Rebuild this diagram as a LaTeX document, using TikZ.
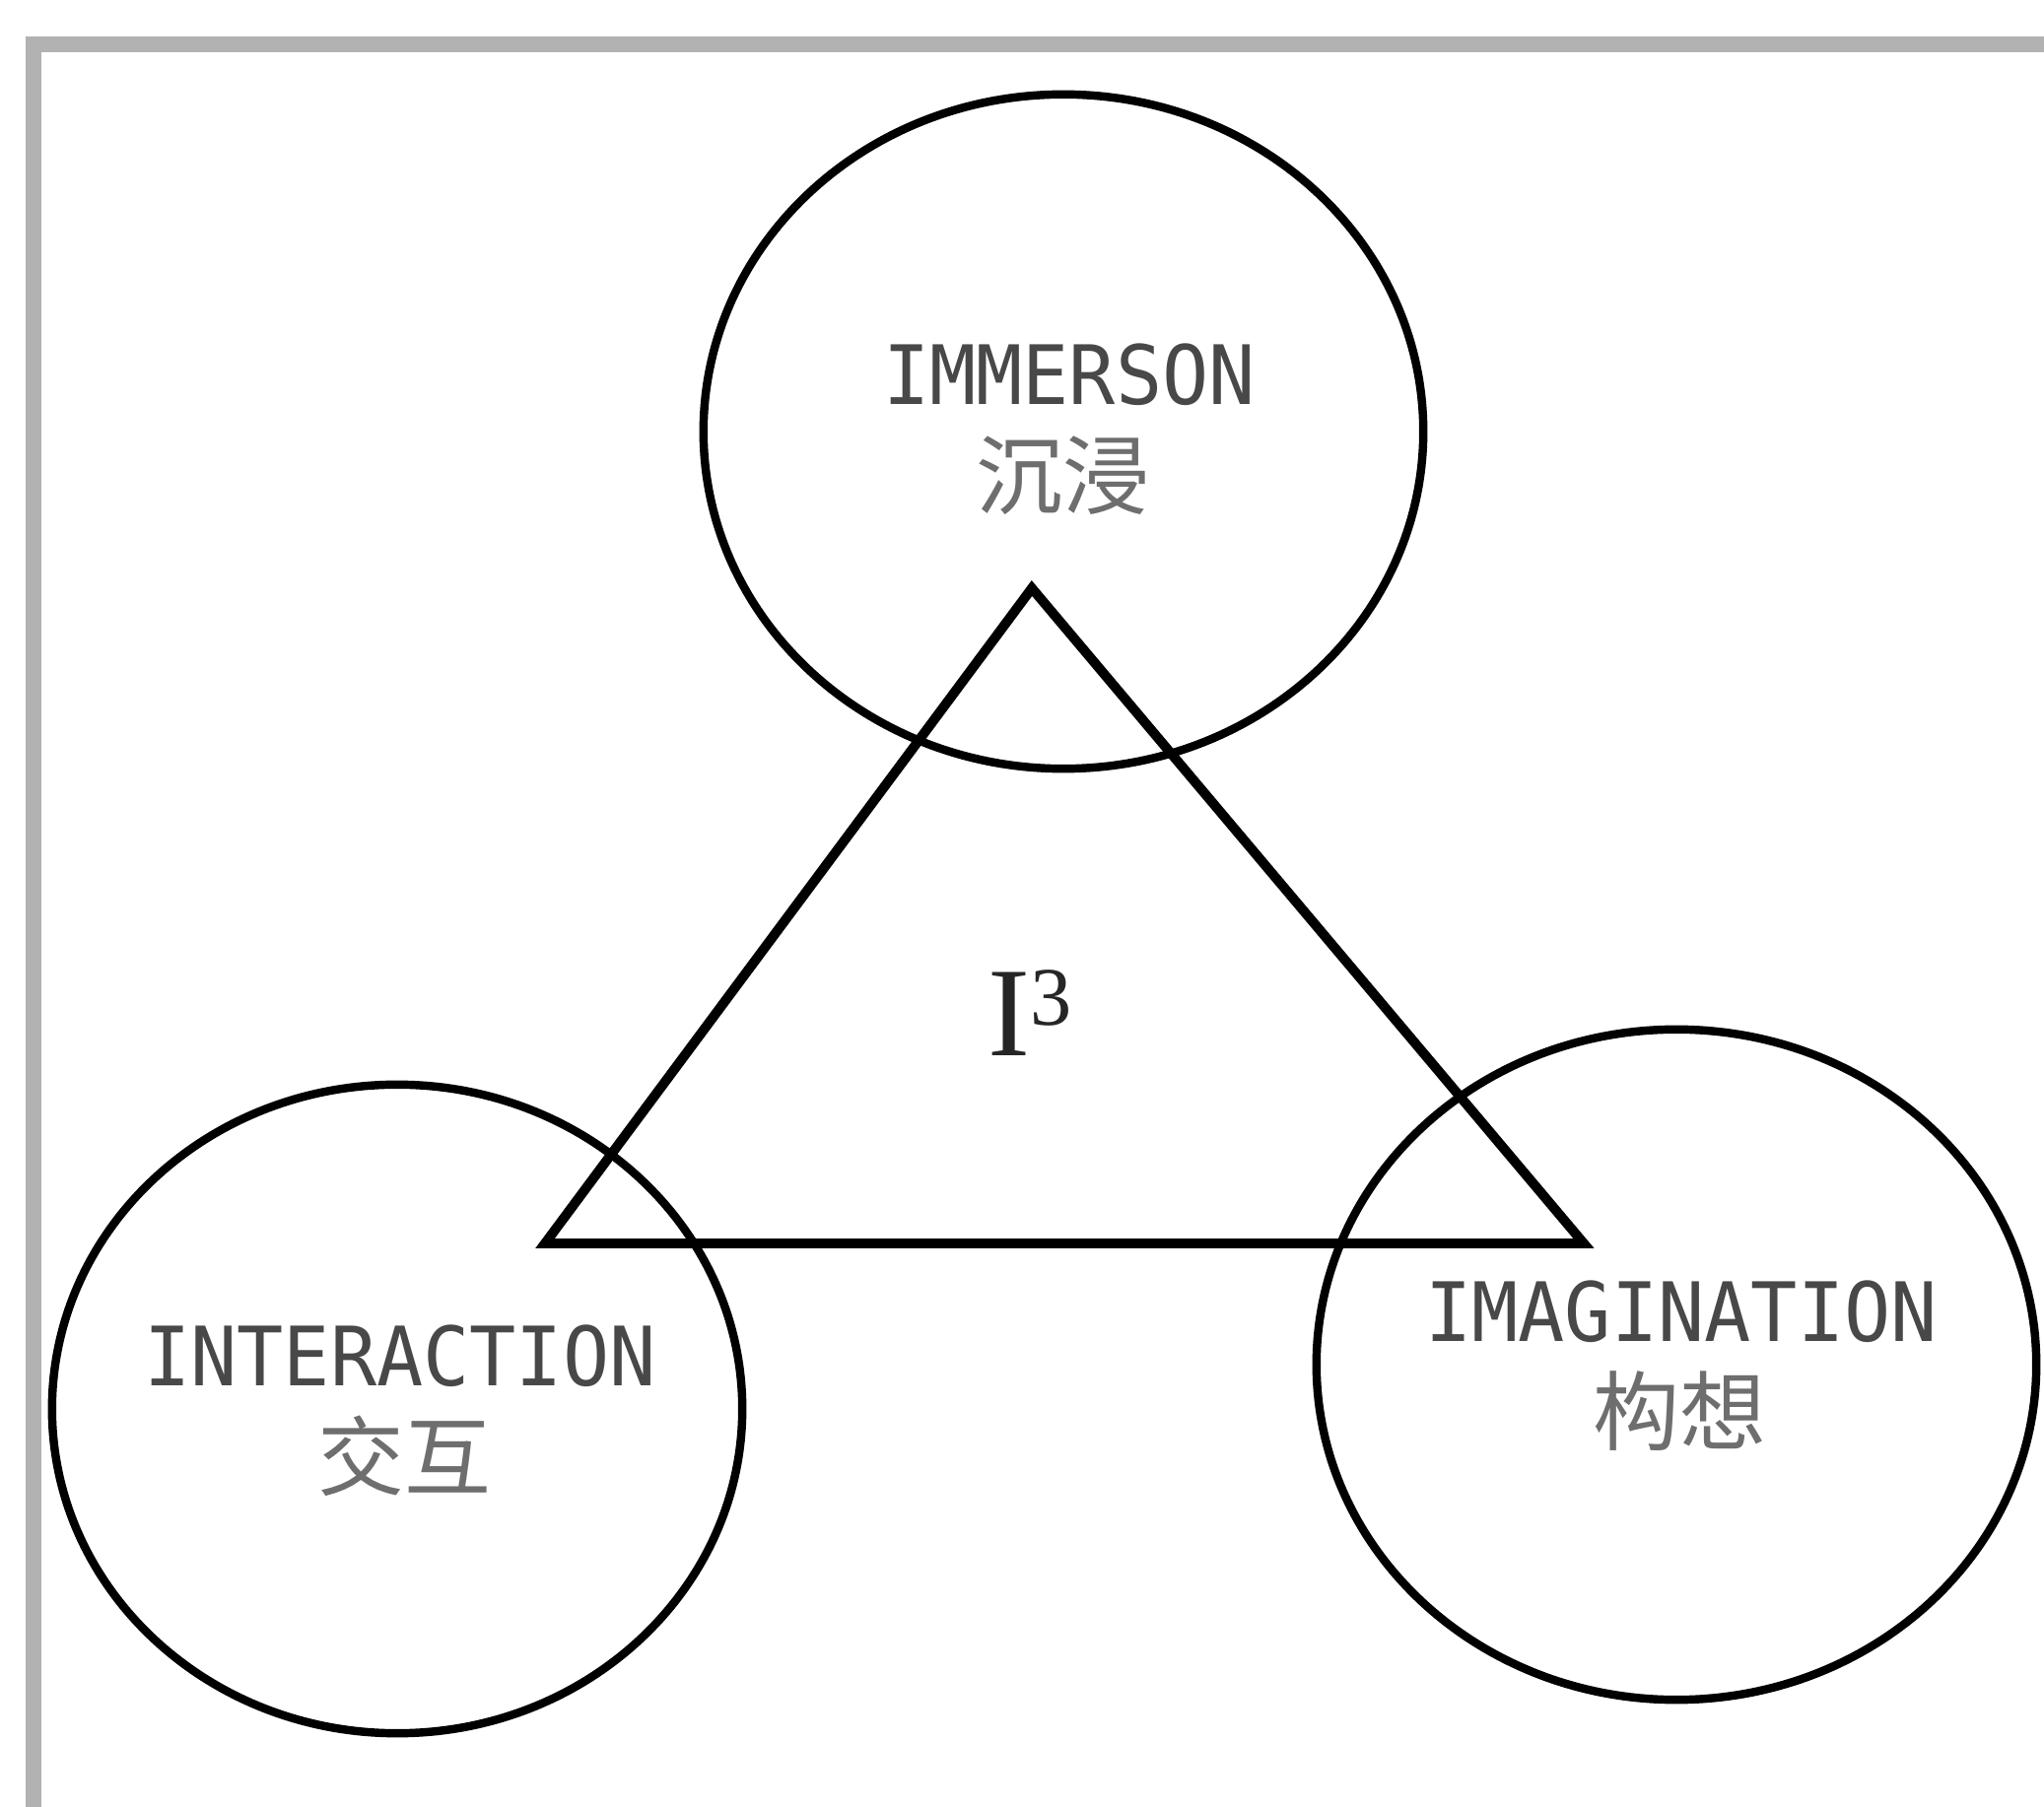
\documentclass[tikz,border=0pt]{standalone}
\usepackage{fontspec}
\setmainfont{Liberation Serif}
\newfontfamily\latmono{DejaVu Sans Mono}
\newfontfamily\cjk{Noto Sans CJK SC}
\usetikzlibrary{shapes.geometric}
\definecolor{framegray}{HTML}{B2B2B2}
\definecolor{txtdark}{HTML}{484848}
\definecolor{txtlight}{HTML}{6E6E6E}
\tikzset{
  ring/.style={draw=black, line width=2.4pt, ellipse, inner sep=0pt},
  entxt/.style={font=\latmono\fontsize{22.3pt}{24pt}\selectfont, text=txtdark, yscale=1.06, inner sep=0pt, anchor=center},
  zhtxt/.style={font=\cjk\fontsize{25pt}{27pt}\selectfont, text=txtlight, inner sep=0pt, anchor=center},
  tri/.style={draw=black, line width=2.8pt, line join=miter},
  frameline/.style={draw=framegray, line width=4.3pt}
}
\begin{document}
\begin{tikzpicture}[x=0.01cm, y=-0.01cm]
\useasboundingbox (0,0) rectangle (2074,1834);
% frame
\coordinate (ftl) at (34,45);
\coordinate (ftr) at (2074,45);
\coordinate (fbl) at (34,1834);
\draw[frameline] (ftr) -- (27,45);
\draw[frameline] (34,37) -- (fbl);
% circles
\node[ring, minimum width=7.30cm, minimum height=6.84cm] (top) at (1079,438) {};
\node[ring, minimum width=7.00cm, minimum height=6.58cm] (left) at (403,1430) {};
\node[ring, minimum width=7.30cm, minimum height=6.80cm] (right) at (1701,1385) {};
% triangle
\coordinate (A) at (1047,597);
\coordinate (B) at (553,1262);
\coordinate (C) at (1607,1262);
\draw[tri] (A) -- (B) -- (C) -- cycle;
% labels
\node[entxt] (t1) at (1085,380) {IMMERSON};
\node[zhtxt] (t2) at (1078,483) {沉浸};
\node[entxt] (l1) at (406,1376) {INTERACTION};
\node[zhtxt] (l2) at (410,1478) {交互};
\node[entxt] (r1) at (1706,1331) {IMAGINATION};
\node[zhtxt] (r2) at (1704,1432) {构想};
\node[font=\fontsize{36.7pt}{38pt}\selectfont, text=black!85, inner sep=0pt] (ic) at (1045,1028) {I\raisebox{9pt}{\fontsize{24pt}{24pt}\selectfont 3}};
\end{tikzpicture}
\end{document}
